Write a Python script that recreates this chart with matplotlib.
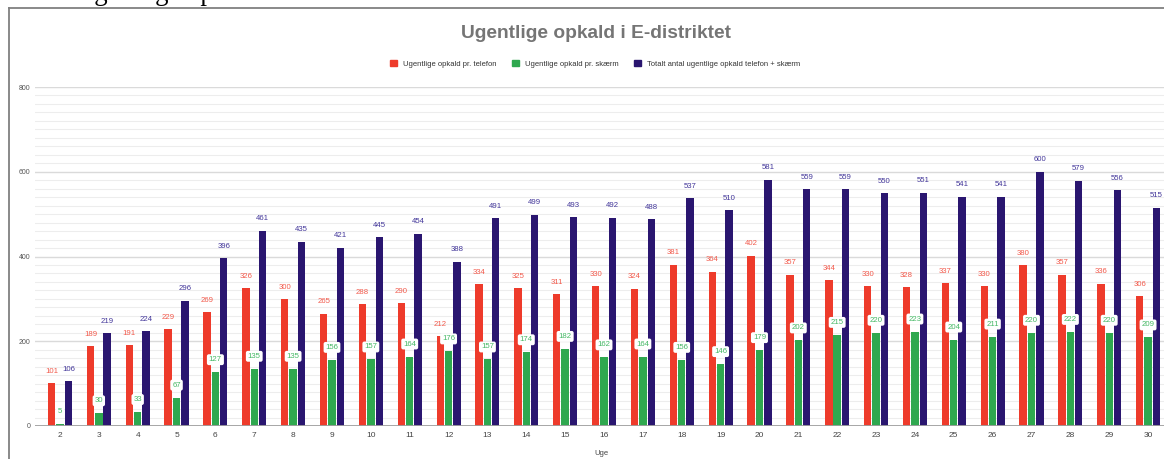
import numpy as np
import matplotlib
matplotlib.use("Agg")
from matplotlib import pyplot as plt
from matplotlib.patches import Patch
from matplotlib.lines import Line2D

# Data #
weeks = list(range(2, 31))
telefon = [101, 189, 191, 229, 269, 326, 300, 265, 288, 290, 212, 334, 325, 311, 330,
           324, 381, 364, 402, 357, 344, 330, 328, 337, 330, 380, 357, 336, 306]
skaerm = [5, 30, 33, 67, 127, 135, 135, 156, 157, 164, 176, 157, 174, 182, 162,
          164, 156, 146, 179, 202, 215, 220, 223, 204, 211, 220, 222, 220, 209]
total = [106, 219, 224, 296, 396, 461, 435, 421, 445, 454, 388, 491, 499, 493, 492,
         488, 537, 510, 581, 559, 559, 550, 551, 541, 541, 600, 579, 556, 515]
series_names = ["Ugentlige opkald pr. telefon",
                "Ugentlige opkald pr. skærm",
                "Totalt antal ugentlige opkald telefon + skærm"]

RED, GREEN, NAVY = "#ee3b2b", "#2fa84f", "#2a1670"
RED_TXT, GREEN_TXT, NAVY_TXT = "#f25a4c", "#45b865", "#43379a"

plt.rcParams['font.family'] = ['Liberation Sans', 'DejaVu Sans']

W, H = 1164, 459
fig = plt.figure(figsize=(W / 100, H / 100), dpi=100)

# Axes placed in pixel terms (chart runs past the right edge, like the screenshot).
ax = fig.add_axes([34.7 / W, 33 / H, 1132.8 / W, 339 / H])
x = np.arange(len(weeks))
bw, off = 0.19, 0.215

ax.bar(x - off, telefon, bw, color=RED, zorder=3)
ax.bar(x, skaerm, bw, color=GREEN, zorder=3)
ax.bar(x + off, total, bw, color=NAVY, zorder=3)

for i in range(len(weeks)):
    ax.annotate(str(telefon[i]), (x[i] - off, telefon[i]), xytext=(0, 8.5),
                textcoords='offset points', ha='center', va='center',
                fontsize=5.6, color=RED_TXT, zorder=5)
    ax.annotate(str(total[i]), (x[i] + off, total[i]), xytext=(0, 8.5),
                textcoords='offset points', ha='center', va='center',
                fontsize=5.6, color=NAVY_TXT, zorder=5)
    ax.annotate(str(skaerm[i]), (x[i], skaerm[i]), xytext=(0, 9),
                textcoords='offset points', ha='center', va='center',
                fontsize=5.6, color=GREEN_TXT, zorder=6,
                bbox=dict(boxstyle='round,pad=0.25', fc='white', ec='none'))

ax.set_xlim(-0.65, len(weeks) - 0.5)
ax.set_ylim(0, 800)
ax.set_yticks(np.arange(0, 801, 200))
ax.set_yticks(np.arange(0, 801, 20), minor=True)
ax.set_xticks(x)
ax.set_xticklabels([str(w) for w in weeks])
ax.tick_params(axis='both', which='both', length=0)
ax.tick_params(axis='y', labelsize=5, labelcolor='#555555', pad=3)
ax.tick_params(axis='x', labelsize=6, labelcolor='#444444', pad=4)
ax.grid(axis='y', which='minor', color='#ededed', linewidth=0.8, zorder=0)
ax.grid(axis='y', which='major', color='#dadada', linewidth=1.0, zorder=0)
ax.axhline(0, color='#a0a0a0', linewidth=1.3, zorder=4)
for s in ax.spines.values():
    s.set_visible(False)
ax.set_xlabel("Uge", fontsize=5.5, color='#444444', labelpad=8)

# Title and legend.
fig.text(596 / W, 1 - 33 / H, "Ugentlige opkald i E-distriktet", ha='center', va='center',
         fontsize=13.8, fontweight='bold', color='#757575')
handles = [Patch(color=c) for c in (RED, GREEN, NAVY)]
fig.legend(handles, series_names, loc='center', bbox_to_anchor=(595 / W, 1 - 64 / H),
           ncol=3, frameon=False, fontsize=5.5, handlelength=0.9, handleheight=0.9,
           handletextpad=0.8, columnspacing=2.0, labelcolor='#333333')

# Document frame and the caption line above it, cut off by the page crop.
fig.add_artist(Line2D([9 / W, 1], [1 - 8 / H, 1 - 8 / H], color='#808080', linewidth=1.3))
fig.add_artist(Line2D([9 / W, 9 / W], [0, 1 - 8 / H], color='#808080', linewidth=1.3))
fig.text(75 / W, 1.0, "Ugentlige opkald", family='Liberation Serif', fontsize=19.3,
         color='black', va='baseline', ha='left')

fig.savefig("out.png", dpi=100, facecolor='white')
